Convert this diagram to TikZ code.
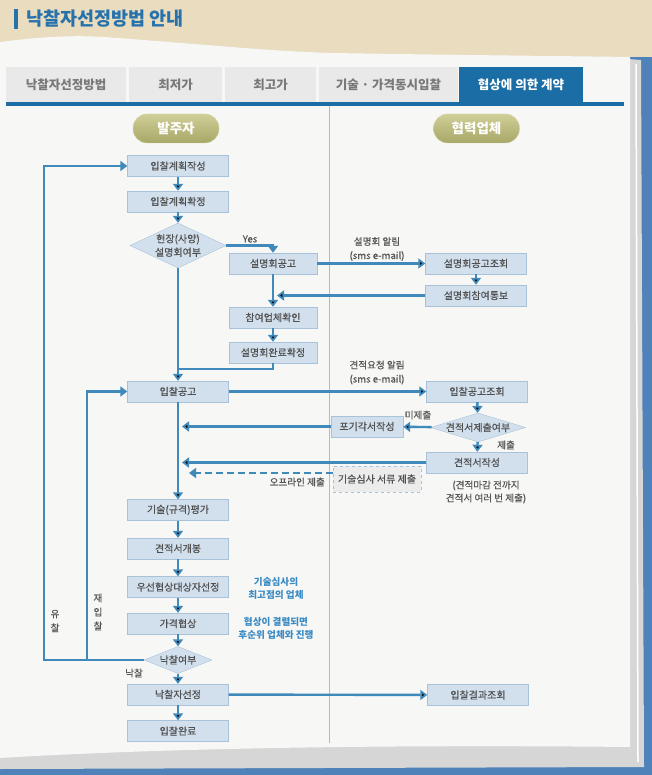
\documentclass[tikz,border=0pt]{standalone}
\usepackage{fontspec}
\usepackage{tikz}
\setmainfont{Noto Sans CJK KR}
\newfontfamily\medfont[FakeBold=0.5]{Noto Sans CJK KR}
\usetikzlibrary{shapes.geometric,arrows.meta}

\begin{document}
\begin{tikzpicture}[x=1pt,y=-1pt,>={Triangle[length=7pt,width=10pt]},
    	 flow/.style={->,draw=linkblue,line width=2.4pt},
    	 box node/.style={rectangle,draw=boxline,fill=boxfill,text=boxtext,minimum width=101pt,minimum height=21pt,inner sep=0pt,font=\medfont\fontsize{10}{11}\selectfont},
    	 mid node/.style={box node,minimum width=88pt},
    	 dia node/.style={diamond,aspect=2,draw=boxline,fill=boxfill,text=boxtext,inner sep=-5pt,align=center,font=\medfont\fontsize{10}{13.5}\selectfont},
    	 head node/.style={rectangle,rounded corners=14pt,draw=pillline,top color=pilltop,bottom color=pillbottom,text=white,minimum width=86pt,minimum height=29pt,inner sep=0pt,font=\bfseries\fontsize{13.5}{15}\selectfont},
    	 tab node/.style={rectangle,fill=tabgray,text=tabtext,minimum height=35pt,inner sep=0pt,font=\bfseries\fontsize{12.5}{13}\selectfont},
    	 lab node/.style={text=labtext,inner sep=0pt,align=center,font=\medfont\fontsize{9.6}{14}\selectfont},
    	 note node/.style={text=noteblue,inner sep=0pt,align=center,font=\bfseries\fontsize{9.6}{13.5}\selectfont}]

	\definecolor{bgblue}{RGB}{79,130,184}
	\definecolor{bgtan}{RGB}{233,220,191}
	\definecolor{paper}{RGB}{247,247,245}
	\definecolor{stackgray}{RGB}{214,214,214}
	\definecolor{tabgray}{RGB}{233,233,233}
	\definecolor{tabtext}{RGB}{120,120,120}
	\definecolor{tabblue}{RGB}{27,109,166}
	\definecolor{titleblue}{RGB}{40,114,172}
	\definecolor{boxfill}{RGB}{210,224,237}
	\definecolor{boxline}{RGB}{168,194,217}
	\definecolor{boxtext}{RGB}{80,80,80}
	\definecolor{linkblue}{RGB}{63,137,187}
	\definecolor{labtext}{RGB}{85,85,85}
	\definecolor{noteblue}{RGB}{58,139,196}
	\definecolor{divider}{RGB}{201,192,96}
	\definecolor{pilltop}{RGB}{207,207,152}
	\definecolor{pillbottom}{RGB}{167,167,103}
	\definecolor{pillline}{RGB}{214,214,170}
	\definecolor{dashfill}{RGB}{236,236,236}

	\fill[bgblue] (0,0) rectangle (652,775);
	\fill[bgtan] (0,0) rectangle (652,57);
	\fill[stackgray] (590,56) -- (641,60) -- (644,767) -- (0,769) -- (0,720) -- cycle;
	\draw[white,line width=1.5pt] (636,64) -- (638,762);
	\fill[paper] (0,42) .. controls (40,37) and (70,35) .. (104,37) .. controls (200,44) and (280,52) .. (333,53) .. controls (450,55) and (560,56) .. (630,57) -- (630,747) .. controls (450,745) and (200,746) .. (0,758) -- cycle;

	\fill[titleblue] (14,9) rectangle (18,29);
	\draw (26,19) node[anchor=west,inner sep=0pt,text=titleblue,font=\bfseries\fontsize{18.5}{20}\selectfont] (title) {낙찰자선정방법 안내};

	\draw (66,84.5)    node[tab node,minimum width=120pt] (t1) {낙찰자선정방법};
	\draw (175.5,84.5) node[tab node,minimum width=93pt]  (t2) {최저가};
	\draw (270.5,84.5) node[tab node,minimum width=91pt]  (t3) {최고가};
	\draw (388.5,84.5) node[tab node,minimum width=139pt] (t4) {기술 · 가격동시입찰};
	\draw (521,84.5)   node[tab node,minimum width=124pt,fill=tabblue,text=white] (t5) {협상에 의한 계약};
	\fill[tabblue] (6,102) rectangle (624,106);

	\draw[divider,line width=1pt] (329,106) -- (329,743);

	\draw (176,128.5) node[head node] (p1) {발주자};
	\draw (476.5,128.5) node[head node] (p2) {협력업체};

	\draw (178,166)   node[box node] (1) {입찰계획작성};
	\draw (178,201.5) node[box node] (2) {입찰계획확정};
	\draw (178,245.5) node[dia node,minimum width=96pt,minimum height=45pt] (3) {현장(사양)\\설명회여부};
	\draw (273,263.5) node[mid node] (4) {설명회공고};
	\draw (273,317.5) node[mid node] (5) {참여업체확인};
	\draw (273,352.5) node[mid node] (6) {설명회완료확정};
	\draw (178,391.5) node[box node] (7) {입찰공고};
	\draw (178,510)   node[box node] (8) {기술(규격)평가};
	\draw (178,548.5) node[box node] (9) {견적서개봉};
	\draw (178,587)   node[box node] (10) {우선협상대상자선정};
	\draw (178,623.5) node[box node] (11) {가격협상};
	\draw (178,660)   node[dia node,minimum width=68pt,minimum height=27pt] (12) {낙찰여부};
	\draw (178,694.5) node[box node] (13) {낙찰자선정};
	\draw (178,731)   node[box node] (14) {입찰완료};

	\draw (476,263.5) node[box node] (15) {설명회공고조회};
	\draw (476,295.5) node[box node] (16) {설명회참여통보};
	\draw (477,391.5) node[box node] (17) {입찰공고조회};
	\draw (478,427.5) node[dia node,minimum width=95pt,minimum height=29pt] (18) {견적서제출여부};
	\draw (367,426.5) node[box node,minimum width=72pt] (19) {포기각서작성};
	\draw (477,462.5) node[box node] (20) {견적서작성};
	\draw (377,479)   node[box node,minimum width=88pt,minimum height=26pt,fill=dashfill,dashed] (21) {기술심사 서류 제출};
	\draw (478,695)   node[box node] (22) {입찰결과조회};

	\coordinate (c1) at (277,295.5);
	\coordinate (c2) at (178,369);
	\coordinate (c3) at (182,426.5);
	\coordinate (c4) at (182,462.5);
	\coordinate (c5) at (189,473);

	\path[flow]
    (1)  edge (2)
    (2)  edge (3)
    (3)  edge (7)
    (4)  edge (5)
    (5)  edge (6)
    (4)  edge (15)
    (15) edge (16)
    (16) edge (c1)
    (7)  edge (17)
    (7)  edge (8)
    (17) edge (18)
    (18) edge (19)
    (18) edge (20)
    (19) edge (c3)
    (20) edge (c4)
    (8)  edge (9)
    (9)  edge (10)
    (10) edge (11)
    (11) edge (12)
    (12) edge (13)
    (13) edge (14)
    (13) edge (22);

	\draw[flow] (3.east) -| (4.north);
	\draw[flow,-] (6.south) |- (c2);
	\draw[flow] (12.west) -- ++(-100,0) |- (1.west);
	\draw[flow] (12.west) -- ++(-57,0) |- (7.west);
	\draw[flow,dash pattern=on 7pt off 4pt] (21.west |- c5) -- (c5);

	\draw (250,239) node[lab node] (l1) {Yes};
	\draw (377,249) node[lab node] (l2) {설명회 알림\\(sms e-mail)};
	\draw (377,372.5) node[lab node] (l3) {견적요청 알림\\(sms e-mail)};
	\draw (418,415) node[lab node] (l4) {미제출};
	\draw (506,445) node[lab node] (l5) {제출};
	\draw (325,482) node[lab node,anchor=east] (l6) {오프라인 제출};
	\draw (486,492) node[lab node,font=\medfont\fontsize{9.6}{13}\selectfont] (l7) {(견적마감 전까지\\견적서 여러 번 제출)};
	\draw (55,621) node[lab node] (l8) {유\\찰};
	\draw (98,612) node[lab node] (l9) {재\\입\\찰};
	\draw (134,673) node[lab node] (l10) {낙찰};
	\draw (276,588.5) node[note node] (n1) {기술심사의\\최고점의 업체};
	\draw (276,628.5) node[note node] (n2) {협상이 결렬되면\\후순위 업체와 진행};

\end{tikzpicture}
\end{document}
